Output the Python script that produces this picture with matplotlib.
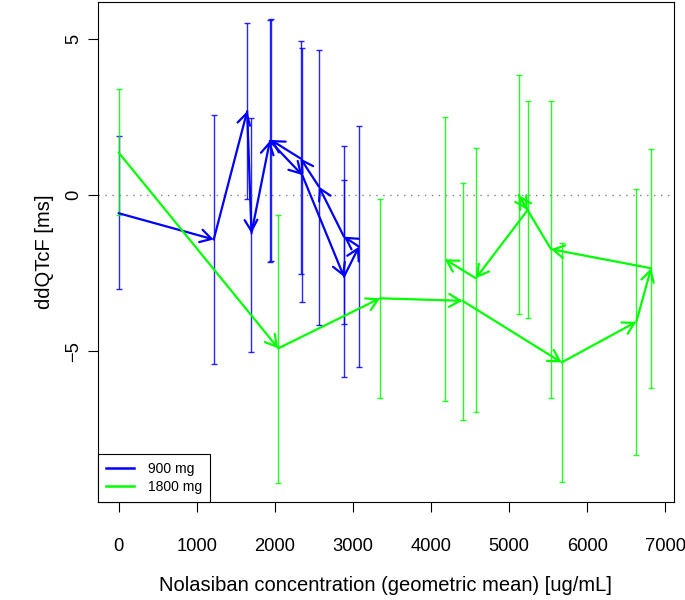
import matplotlib

matplotlib.use("Agg")
import matplotlib.pyplot as plt
from matplotlib.lines import Line2D

plt.rcParams["font.family"] = ["Liberation Sans", "DejaVu Sans"]

# 900 mg: geometric-mean concentration, ddQTcF and its 90% CI, in time order
conc_900 = [0, 1218, 1646, 1701, 1936, 2351, 2885, 3077, 2885, 2564, 2329, 1950]
dd_900 = [-0.58, -1.42, 2.68, -1.22, 1.73, 0.64, -2.61, -1.65, -1.33, 0.27, 1.17, 1.76]
lo_900 = [-3.00, -5.41, -0.13, -5.01, -2.15, -3.41, -5.81, -5.49, -4.13, -4.14, -2.53, -2.10]
hi_900 = [1.88, 2.57, 5.49, 2.45, 5.58, 4.70, 0.48, 2.21, 1.57, 4.65, 4.93, 5.62]

# 1800 mg
conc_1800 = [0, 2044, 3346, 4403, 5672, 6628, 6817, 5535, 5121, 5236, 4573, 4176]
dd_1800 = [1.36, -4.90, -3.30, -3.38, -5.35, -4.05, -2.34, -1.73, 0.00, -0.48, -2.66, -2.05]
lo_1800 = [-0.65, -9.20, -6.50, -7.19, -9.18, -8.31, -6.18, -6.48, -3.81, -3.92, -6.94, -6.58]
hi_1800 = [3.39, -0.64, -0.13, 0.37, -1.54, 0.19, 1.47, 3.01, 3.84, 3.01, 1.50, 2.50]

doses = ["900 mg", "1800 mg"]
colors = ["#0000FF", "#00FF00"]

fig = plt.figure(figsize=(6.85, 6.0), dpi=100)
ax = fig.add_axes([97.5 / 685, 1 - 502 / 600, (674 - 97.5) / 685, 500 / 600])

series = [
    (conc_900, dd_900, lo_900, hi_900),
    (conc_1800, dd_1800, lo_1800, hi_1800),
]
for (x, y, lo, hi), col in zip(series, colors):
    yerr = [[yi - l for yi, l in zip(y, lo)], [h - yi for yi, h in zip(y, hi)]]
    ax.errorbar(x, y, yerr=yerr, fmt="none", ecolor=col, elinewidth=1.0,
                capsize=2.5, capthick=1.0, alpha=0.85)
    for i in range(len(x) - 1):
        ax.annotate("", xy=(x[i + 1], y[i + 1]), xytext=(x[i], y[i]),
                    arrowprops=dict(arrowstyle="->,head_length=8.0,head_width=4.6",
                                    mutation_scale=1, color=col, lw=1.6,
                                    shrinkA=0, shrinkB=0))

ax.axhline(0, color="gray", lw=1.0, ls=(0, (1, 4)))

ax.set_xlim(-270, 7110)
ax.set_ylim(-9.81, 6.17)
ax.set_xticks(range(0, 7001, 1000))
ax.set_yticks([-5, 0, 5])
ax.tick_params(direction="out", length=7, width=0.8, labelsize=13.2)
ax.tick_params(axis="x", pad=19)
ax.tick_params(axis="y", pad=4)
for lab in ax.get_yticklabels():
    lab.set_rotation(90)
    lab.set_va("center")
for sp in ax.spines.values():
    sp.set_linewidth(0.8)

ax.set_xlabel("Nolasiban concentration (geometric mean) [ug/mL]", fontsize=14.5, labelpad=15)
ax.set_ylabel("ddQTcF [ms]", fontsize=14.5, labelpad=8)

handles = [Line2D([], [], color=c, lw=1.8) for c in colors]
leg = ax.legend(handles, doses, loc="lower left", borderaxespad=0, fancybox=False,
                edgecolor="black", framealpha=1, fontsize=10, handlelength=2.0,
                handletextpad=1.0, labelspacing=0.25, borderpad=0.6)
leg.get_frame().set_linewidth(0.8)

fig.savefig("out.png", dpi=100)
